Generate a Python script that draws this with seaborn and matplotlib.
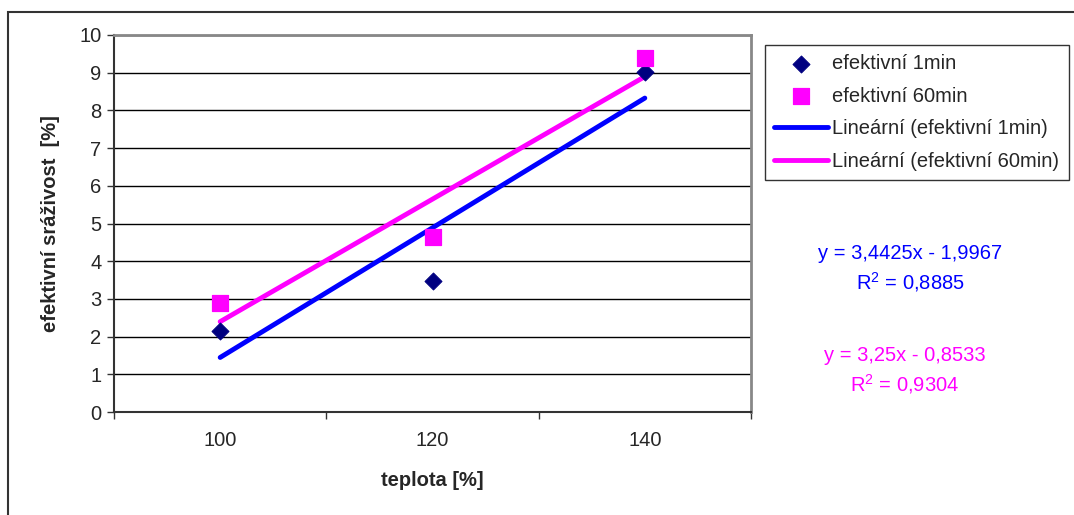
import numpy as np
import pandas as pd
import seaborn as sns
import matplotlib.pyplot as plt
from matplotlib.patches import Rectangle

sns.set_theme(style="white")
plt.rcParams['font.family'] = ['Liberation Sans', 'DejaVu Sans']
plt.rcParams['mathtext.default'] = 'regular'

# data
teplota = ["100", "120", "140"]
pozice = [1, 2, 3]
ef_1min = [2.15, 3.48, 9.03]
ef_60min = [2.90, 4.64, 9.40]
rovnice_1min = "y = 3,4425x - 1,9967\nR$^2$ = 0,8885"
rovnice_60min = "y = 3,25x - 0,8533\nR$^2$ = 0,9304"

df = pd.DataFrame({"x": pozice, "m1": ef_1min, "m60": ef_60min})

FS = 14.5

fig = plt.figure(figsize=(10.74, 5.15), dpi=100)
ax = fig.add_axes([114/1074, 1 - 412/515, (751 - 114)/1074, (412 - 35)/515])

# outer chart frame
fig.patches.append(Rectangle((8/1074, -0.1), 1.2, 1 - 12/515 + 0.1, transform=fig.transFigure,
                             fill=False, edgecolor="#333333", linewidth=1.5))

# trend lines
sns.regplot(data=df, x="x", y="m1", ax=ax, ci=None, scatter=False, truncate=True,
            line_kws=dict(color="#0000FF", linewidth=3.5, solid_capstyle="round", zorder=3),
            label="Lineární (efektivní 1min)")
sns.regplot(data=df, x="x", y="m60", ax=ax, ci=None, scatter=False, truncate=True,
            line_kws=dict(color="#FF00FF", linewidth=3.5, solid_capstyle="round", zorder=3),
            label="Lineární (efektivní 60min)")

# points
sns.scatterplot(data=df, x="x", y="m1", ax=ax, marker="D", s=75, color="#000080",
                edgecolor="#000080", zorder=4, label="efektivní 1min")
sns.scatterplot(data=df, x="x", y="m60", ax=ax, marker="s", s=120, color="#FF00FF",
                edgecolor="#FF00FF", zorder=4, label="efektivní 60min")

ax.set_xlim(0.5, 3.5)
ax.set_ylim(0, 10)
ax.set_yticks(range(0, 11))
ax.set_xticks([0.5, 1.5, 2.5, 3.5])
ax.set_xticklabels([])
ax.set_xticks(pozice, minor=True)
ax.set_xticklabels(teplota, minor=True)
ax.tick_params(axis="x", which="major", direction="out", length=5, width=1, color="#333333", bottom=True)
ax.tick_params(axis="x", which="minor", length=0, pad=14, labelsize=FS)
ax.tick_params(axis="y", direction="out", length=5, width=1, color="#333333", left=True,
               labelsize=FS, pad=4)
ax.yaxis.grid(True, color="black", linewidth=1)
ax.xaxis.grid(False)
ax.set_axisbelow(True)

for s in ["top", "right"]:
    ax.spines[s].set_color("#888888")
    ax.spines[s].set_linewidth(2)
for s in ["left", "bottom"]:
    ax.spines[s].set_color("#333333")
    ax.spines[s].set_linewidth(1.5)

ax.set_xlabel("teplota [%]", fontsize=FS, fontweight="bold", labelpad=15)
ax.set_ylabel("efektivní sráživost  [%]", fontsize=FS, fontweight="bold", labelpad=14)

# legend in Excel order
h, l = ax.get_legend_handles_labels()
order = ["efektivní 1min", "efektivní 60min", "Lineární (efektivní 1min)", "Lineární (efektivní 60min)"]
hd = dict(zip(l, h))
leg = ax.legend([hd[k] for k in order], order, loc="upper left",
                bbox_to_anchor=(765/1074, 1 - 45/515), bbox_transform=fig.transFigure,
                fontsize=FS, frameon=True, fancybox=False, edgecolor="black",
                borderpad=0.45, labelspacing=0.68, handlelength=2.7, handletextpad=0.2,
                borderaxespad=0)
leg.get_frame().set_linewidth(1)

fig.text(910/1074, 1 - 269/515, rovnice_1min, color="#0000FF", ha="center", va="center",
         fontsize=FS, linespacing=1.35)
fig.text(905/1074, 1 - 371/515, rovnice_60min, color="#FF00FF", ha="center", va="center",
         fontsize=FS, linespacing=1.35)

fig.savefig("out.png", dpi=100)
